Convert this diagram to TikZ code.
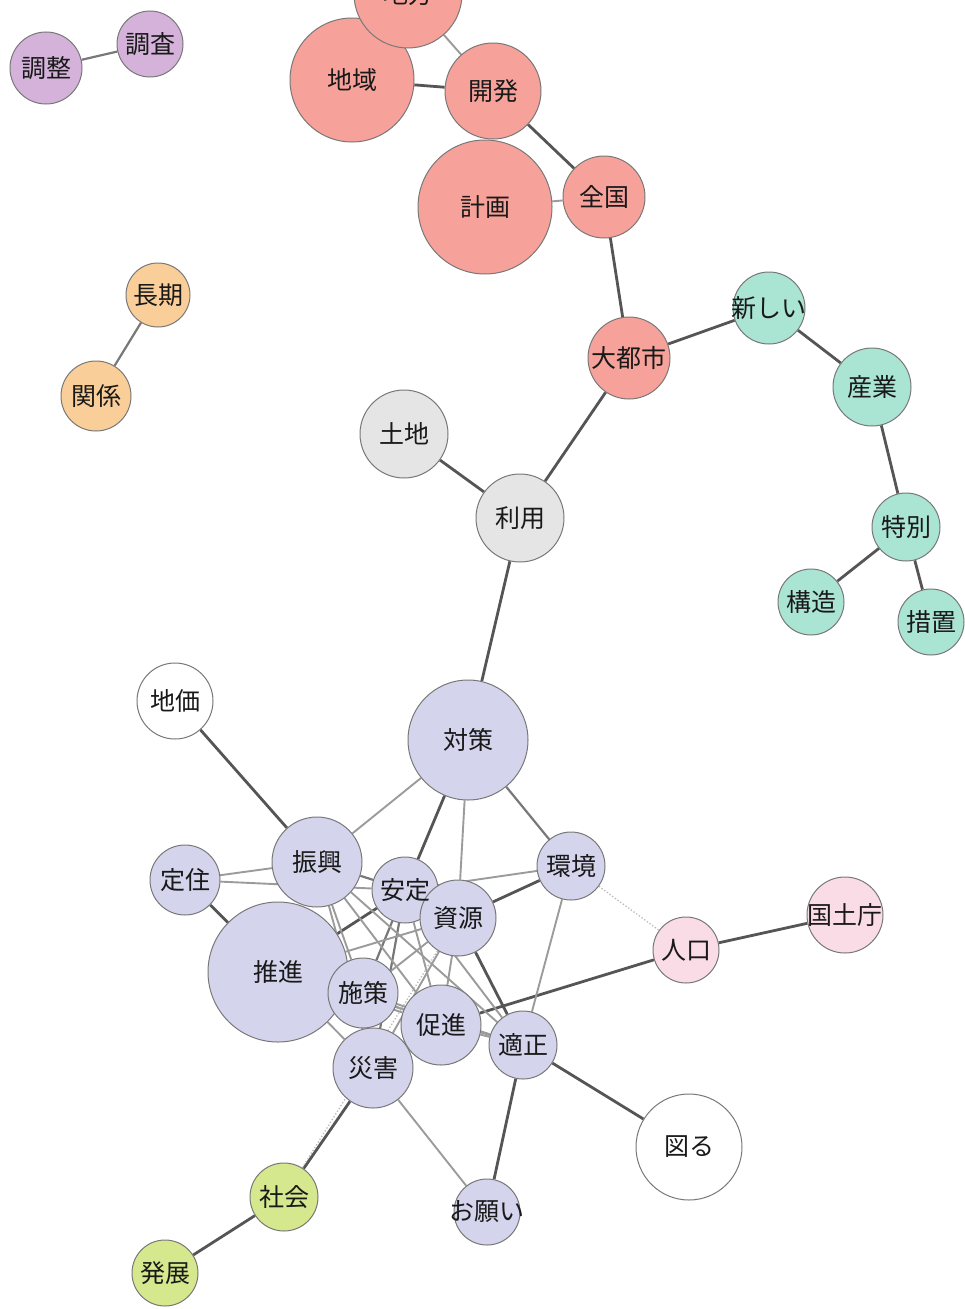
\documentclass[tikz,border=0pt]{standalone}
\usepackage{fontspec}
\newfontfamily\jp{Noto Sans CJK JP}
\usetikzlibrary{backgrounds}
\definecolor{cred}{RGB}{246,162,154}
\definecolor{cpur}{RGB}{212,178,218}
\definecolor{corg}{RGB}{250,206,152}
\definecolor{cteal}{RGB}{170,228,210}
\definecolor{cgray}{RGB}{229,229,229}
\definecolor{cblue}{RGB}{212,212,236}
\definecolor{cpink}{RGB}{250,220,230}
\definecolor{cgreen}{RGB}{214,232,142}
\definecolor{cwhite}{RGB}{255,255,255}
\definecolor{edgeS}{RGB}{85,85,85}
\definecolor{edgeM}{RGB}{120,120,120}
\definecolor{edgeW}{RGB}{155,155,155}
\definecolor{rim}{RGB}{120,120,120}
\tikzset{
  bubble/.style={circle, draw=rim, line width=1pt, inner sep=0pt},
  lbl/.style={font=\jp\fontsize{25}{25}\selectfont, text=black!90, inner sep=0pt},
  strong/.style={draw=edgeS, line width=2.8pt},
  mid/.style={draw=edgeM, line width=2.2pt},
  weak/.style={draw=edgeW, line width=1.9pt},
  faint/.style={draw=edgeW!70, line width=1.3pt, dotted},
}
\begin{document}
\begin{tikzpicture}[x=1pt, y=-1pt]
\path[use as bounding box] (0,0) rectangle (965,1309);
\clip (0,0) rectangle (965,1309);

% word bubbles: name / x / y / radius / colour
\foreach \n/\x/\y/\r/\c in {
  chiiki/352/80/62/cred, chihou/408/-6/54/cred, kaihatsu/493/91/48/cred,
  keikaku/485/207/67/cred, zenkoku/604/197/41/cred, daitoshi/629/358/41/cred,
  atarashii/769/308/36/cteal, sangyou/872/387/39/cteal, tokubetsu/906/527/34/cteal,
  kouzou/811/602/33/cteal, sochi/931/622/33/cteal,
  chousei/46/68/36/cpur, chousa/150/44/33/cpur,
  chouki/158/295/32/corg, kankei/96/396/35/corg,
  tochi/404/434/44/cgray, riyou/520/518/44/cgray,
  taisaku/468/740/60/cblue, chika/175/701/38/cwhite,
  teijuu/185/880/35/cblue, shinkou/317/862/45/cblue, suishin/278/972/70/cblue,
  antei/405/890/33/cblue, shigen/458/918/38/cblue, kankyou/571/866/34/cblue,
  shisaku/363/993/35/cblue, sokushin/441/1025/40/cblue, tekisei/523/1045/34/cblue,
  saigai/373/1068/40/cblue, jinkou/686/950/33/cpink, kokudochou/845/915/38/cpink,
  hakaru/689/1147/53/cwhite, onegai/487/1212/33/cblue,
  shakai/284/1197/34/cgreen, hatten/165/1273/33/cgreen}
  \node[bubble, fill=\c, minimum size=2*\r] (\n) at (\x,\y) {};

% co-occurrence links, drawn beneath the bubbles
\begin{pgfonlayer}{background}
\foreach \a/\b in {chiiki/kaihatsu, kaihatsu/zenkoku, zenkoku/daitoshi,
  daitoshi/atarashii, daitoshi/riyou, atarashii/sangyou, sangyou/tokubetsu,
  tokubetsu/kouzou, tokubetsu/sochi, tochi/riyou, riyou/taisaku,
  chika/shinkou, taisaku/antei, jinkou/kokudochou, jinkou/sokushin,
  tekisei/hakaru, tekisei/onegai, saigai/shakai, shakai/hatten,
  teijuu/suishin, suishin/antei, shigen/kankyou, shigen/tekisei}
  \draw[strong] (\a) -- (\b);
\foreach \a/\b in {chousei/chousa, chouki/kankei, taisaku/kankyou,
  shinkou/antei, antei/shisaku, antei/saigai}
  \draw[mid] (\a) -- (\b);
\foreach \a/\b in {chihou/kaihatsu, keikaku/zenkoku, taisaku/shinkou,
  taisaku/shigen, kankyou/antei, kankyou/tekisei, saigai/onegai,
  teijuu/shinkou, teijuu/antei, shinkou/shisaku, shinkou/sokushin,
  shinkou/tekisei, shinkou/saigai, suishin/shigen, suishin/sokushin,
  suishin/tekisei, suishin/saigai, antei/sokushin, antei/tekisei,
  shigen/shisaku, shigen/saigai, shigen/sokushin, shisaku/sokushin,
  shisaku/saigai, sokushin/tekisei, shisaku/tekisei}
  \draw[weak] (\a) -- (\b);
\foreach \a/\b in {kankyou/jinkou, shakai/shigen}
  \draw[faint] (\a) -- (\b);
\end{pgfonlayer}

% word labels, set above every bubble
\foreach \n/\t in {chiiki/地域, chihou/地方, kaihatsu/開発, keikaku/計画,
  zenkoku/全国, daitoshi/大都市, atarashii/新しい, sangyou/産業,
  tokubetsu/特別, kouzou/構造, sochi/措置, chousei/調整, chousa/調査,
  chouki/長期, kankei/関係, tochi/土地, riyou/利用, taisaku/対策,
  chika/地価, teijuu/定住, shinkou/振興, suishin/推進, antei/安定,
  shigen/資源, kankyou/環境, shisaku/施策, sokushin/促進, tekisei/適正,
  saigai/災害, jinkou/人口, kokudochou/国土庁, hakaru/図る,
  onegai/お願い, shakai/社会, hatten/発展}
  \node[lbl] (\n-t) at (\n) {\t};
\end{tikzpicture}
\end{document}
